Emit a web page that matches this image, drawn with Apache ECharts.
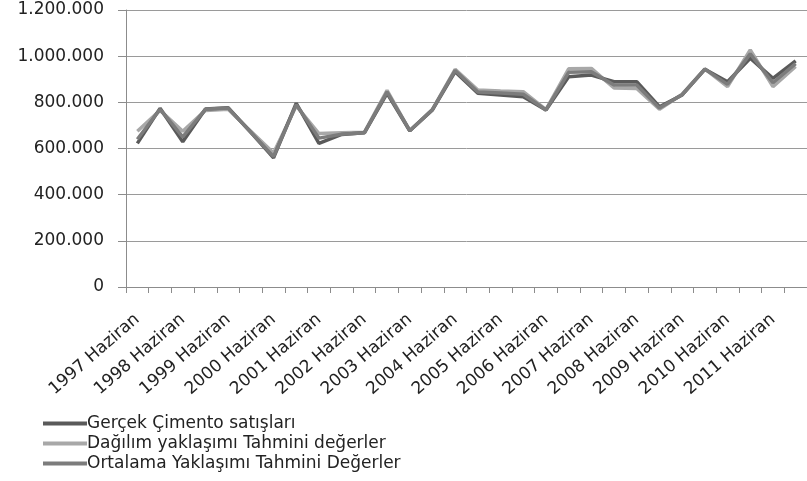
<!DOCTYPE html>
<html>
<head>
<meta charset="utf-8">
<script src="https://cdn.jsdelivr.net/npm/echarts@6/dist/echarts.min.js"></script>
<style>html,body{margin:0;padding:0;background:#fff;}#c{width:807px;height:481px;}</style>
</head>
<body>
<div id="c"></div>
<script>
const years = [1997,1998,1999,2000,2001,2002,2003,2004,2005,2006,2007,2008,2009,2010,2011];
const periods = ['Haziran','Aralık'];
const categories = [];
years.forEach(y => periods.forEach(p => categories.push(y + ' ' + p)));

const seriesNames = ['Gerçek Çimento satışları','Dağılım yaklaşımı Tahmini değerler','Ortalama Yaklaşımı Tahmini Değerler'];

const gercek = [622000,774000,629000,771000,777000,670000,560000,796000,622000,661000,668000,839000,677000,767000,933000,839000,832000,824000,767000,911000,918000,889000,889000,781000,832000,943000,889000,991000,904000,980000];
const dagilim = [675000,765000,675000,765000,770000,675000,580000,785000,665000,668000,670000,852000,677000,770000,943000,853000,849000,846000,768000,945000,947000,862000,860000,770000,835000,945000,868000,1027000,868000,955000];
const ortalama = [640000,770000,650000,770000,775000,670000,565000,790000,645000,662000,668000,845000,677000,768000,938000,845000,840000,835000,767000,930000,932000,875000,875000,775000,833000,944000,878000,1010000,885000,968000];

const yTicks = {min:0, max:1200000, interval:200000};
const colors = ['#5a5a5a','#a8a8a8','#7c7c7c'];

const fmt = v => String(v).replace(/\B(?=(\d{3})+(?!\d))/g, '.');
const FONT = 'DejaVu Sans';

const chart = echarts.init(document.getElementById('c'), null, {renderer:'canvas'});
chart.setOption({
  animation:false,
  backgroundColor:'#fff',
  color: colors,
  grid:{left:126, right:-6, top:10, bottom:194, containLabel:false},
  legend:{
    orient:'vertical', left:38, top:410,
    itemWidth:44, itemHeight:4, itemGap:3,
    icon:'rect',
    textStyle:{fontFamily:FONT, fontSize:17, color:'#222', padding:[0,0,0,-5]},
    data: seriesNames
  },
  xAxis:{
    type:'category', data:categories, boundaryGap:true,
    axisLine:{lineStyle:{color:'#8c8c8c', width:1}},
    axisTick:{show:true, interval:0, length:6, lineStyle:{color:'#8c8c8c'}},
    axisLabel:{interval:1, rotate:41, margin:30, fontFamily:FONT, fontSize:17, color:'#222'}
  },
  yAxis:{
    type:'value', min:yTicks.min, max:yTicks.max, interval:yTicks.interval,
    axisLine:{show:true, lineStyle:{color:'#8c8c8c', width:1}},
    axisTick:{show:true, length:8, lineStyle:{color:'#8c8c8c'}},
    splitLine:{show:true, lineStyle:{color:'#9a9a9a', width:1}},
    axisLabel:{margin:22, fontFamily:FONT, fontSize:17, color:'#222', formatter: fmt}
  },
  series:[
    {name:seriesNames[0], type:'line', data:gercek, showSymbol:false, symbol:'none', lineStyle:{width:3.5, color:colors[0]}, z:3},
    {name:seriesNames[1], type:'line', data:dagilim, showSymbol:false, symbol:'none', lineStyle:{width:3.5, color:colors[1]}, z:2},
    {name:seriesNames[2], type:'line', data:ortalama, showSymbol:false, symbol:'none', lineStyle:{width:3.5, color:colors[2]}, z:4}
  ]
});
</script>
</body>
</html>
